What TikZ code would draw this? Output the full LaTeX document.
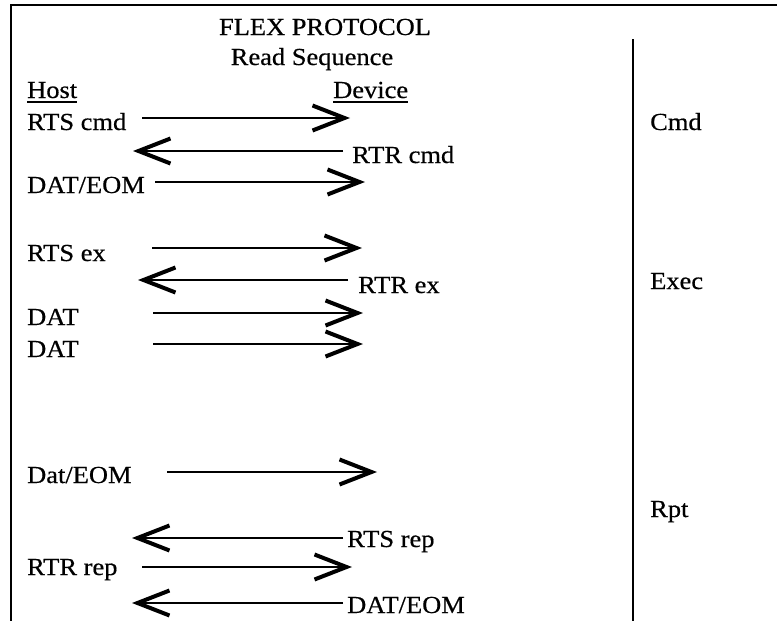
\documentclass[tikz,border=0pt]{standalone}
\usepackage{fontspec}
\setmainfont{Liberation Serif}[FakeStretch=1.08, FakeBold=0.5]
\usetikzlibrary{arrows.meta}

\tikzset{
  lbl/.style={inner sep=0pt, anchor=base west, font=\fontsize{24.5}{29}\selectfont},
  msg/.style={line width=2.2pt, -{Straight Barb[length=32pt,width=25pt,line width=4pt]}},
  frameline/.style={line width=2pt},
  uline/.style={line width=1.6pt},
}

\begin{document}
\begin{tikzpicture}[x=1pt,y=-1pt]
\useasboundingbox (0,0) rectangle (777,621);

% outer frame (top and left edges) and the phase divider
\coordinate (tl) at (11,5);
\coordinate (tr) at (777,5);
\coordinate (bl) at (11,621);
\coordinate (dtop) at (633,39);
\coordinate (dbot) at (633,621);
\draw[frameline] (tr) -- (tl) -- (bl);
\draw[frameline] (dtop) -- (dbot);

% headings
\node[lbl, anchor=base] (title) at (325,35) {FLEX PROTOCOL};
\node[lbl, anchor=base] (subtitle) at (312,65) {Read Sequence};
\node[lbl] (host) at (27,98) {Host};
\node[lbl] (device) at (333,98) {Device};
\draw[uline] ([yshift=-4pt]host.base west) -- ([yshift=-4pt]host.base east);
\draw[uline] ([yshift=-4pt]device.base west) -- ([yshift=-4pt]device.base east);

% message labels
\node[lbl] (rtscmd) at (27,130) {RTS cmd};
\node[lbl] (rtrcmd) at (352,163) {RTR cmd};
\node[lbl] (dateom) at (27,193) {DAT/EOM};
\node[lbl] (rtsex) at (27,261) {RTS ex};
\node[lbl] (rtrex) at (358,293) {RTR ex};
\node[lbl] (datA) at (27,325) {DAT};
\node[lbl] (datB) at (27,357) {DAT};
\node[lbl] (dateomB) at (27,483) {Dat/EOM};
\node[lbl] (rtsrep) at (347,547) {RTS rep};
\node[lbl] (rtrrep) at (27,575) {RTR rep};
\node[lbl] (dateomC) at (347,613) {DAT/EOM};

% phase labels
\node[lbl] (cmd) at (650,130) {Cmd};
\node[lbl] (exec) at (650,289) {Exec};
\node[lbl] (rpt) at (650,517) {Rpt};

% message arrows
\coordinate (m1s) at (142,118);  \coordinate (m1e) at (350,118);
\coordinate (m2s) at (343,151);  \coordinate (m2e) at (133,151);
\coordinate (m3s) at (155,182);  \coordinate (m3e) at (365,182);
\coordinate (m4s) at (152,248);  \coordinate (m4e) at (362,248);
\coordinate (m5s) at (348,280);  \coordinate (m5e) at (138,280);
\coordinate (m6s) at (153,313);  \coordinate (m6e) at (363,313);
\coordinate (m7s) at (153,344);  \coordinate (m7e) at (363,344);
\coordinate (m8s) at (167,472);  \coordinate (m8e) at (377,472);
\coordinate (m9s) at (343,538);  \coordinate (m9e) at (132,538);
\coordinate (m10s) at (142,567); \coordinate (m10e) at (352,567);
\coordinate (m11s) at (343,603); \coordinate (m11e) at (132,603);
\foreach \i in {1,...,11} {
  \draw[msg] (m\i s) -- (m\i e);
}
\end{tikzpicture}
\end{document}
